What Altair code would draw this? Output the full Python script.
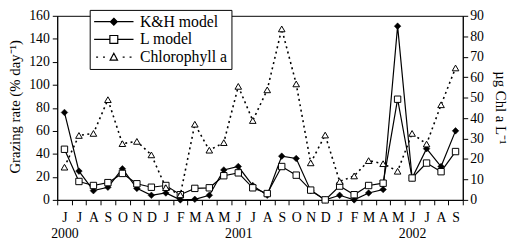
import json
import altair as alt
import pandas as pd

# ---- data ----
month_letters = ["J", "J", "A", "S", "O", "N", "D",
                 "J", "F", "M", "A", "M", "J", "J", "A", "S", "O", "N", "D",
                 "J", "F", "M", "A", "M", "J", "J", "A", "S"]
year_labels = {0: "2000", 12: "2001", 24: "2002"}

kh_model = [76, 25, 8, 11, 27, 10, 4, 6, 0, 0.5, 4, 26, 29, 12.5, 4, 38, 36, 8, 0,
            4, 0, 6, 9, 151, 19, 44.5, 29, 60]
l_model = [44, 16, 12.5, 15, 23, 14, 11, 12.5, 4.5, 10, 10.5, 21, 23.5, 10.5, 5.5, 29, 21.5, 8.5, 0,
           12, 4.5, 12.5, 14.5, 87.5, 19, 32, 24.5, 42]
chlorophyll = [16, 31.5, 32.5, 49, 27.5, 28.6, 22, 6, 2.5, 37, 24.3, 28, 55.5, 38.8, 53.8, 83.6, 56.7,
               18.1, 31.7, 9, 11.7, 19.2, 17.7, 14, 32.5, 27.3, 46.5, 64.5]

series_names = ["K&H model", "L model", "Chlorophyll a"]
left_ticks = [0, 20, 40, 60, 80, 100, 120, 140, 160]
right_ticks = [0, 10, 20, 30, 40, 50, 60, 70, 80, 90]

df = pd.DataFrame({"i": list(range(len(month_letters))), "kh": kh_model,
                   "l": l_model, "chl": chlorophyll})

FONT = "Liberation Serif"

label_arr = [[m, year_labels[k]] if k in year_labels else m for k, m in enumerate(month_letters)]
label_expr = json.dumps(label_arr) + "[datum.value]"

x_enc = alt.X("i:O",
              scale=alt.Scale(type="band", paddingInner=0, paddingOuter=0),
              axis=alt.Axis(title=None, labelExpr=label_expr, labelAngle=0, labelOverlap=False,
                            tickBand="extent", tickSize=5, tickColor="black", domainColor="black",
                            labelFont=FONT, labelFontSize=14, labelColor="black",
                            labelPadding=6, labelLineHeight=16, grid=False))

left_axis = alt.Axis(orient="left", values=left_ticks, title="Grazing rate (% day⁻¹)",
                     titleFont=FONT, titleFontSize=15, titleFontWeight="normal", titleColor="black",
                     titleX=-43, titleY=92, titleAngle=-90, titleAlign="center", titleBaseline="middle",
                     labelFont=FONT, labelFontSize=14, labelColor="black", labelPadding=3,
                     tickColor="black", tickSize=5, domainColor="black", grid=False)
right_axis = alt.Axis(orient="right", values=right_ticks, title="µg Chl a L⁻¹",
                      titleFont=FONT, titleFontSize=15, titleFontWeight="normal", titleColor="black",
                      titleX=38, titleY=93, titleAngle=90, titleAlign="center", titleBaseline="middle",
                      labelFont=FONT, labelFontSize=14, labelColor="black", labelPadding=2,
                      tickColor="black", tickSize=5, domainColor="black", grid=False)

yl_scale = alt.Scale(domain=[0, 160], nice=False)
yr_scale = alt.Scale(domain=[0, 90], nice=False)

base = alt.Chart(df)

kh_line = base.mark_line(color="black", strokeWidth=1.2).encode(
    x=x_enc, y=alt.Y("kh:Q", scale=yl_scale, axis=left_axis))
l_line = base.mark_line(color="black", strokeWidth=1.2).encode(
    x=x_enc, y=alt.Y("l:Q", scale=yl_scale, axis=left_axis))
kh_pts = base.mark_point(shape="diamond", filled=True, fill="black", stroke="black",
                         strokeWidth=0.5, size=45, opacity=1).encode(
    x=x_enc, y=alt.Y("kh:Q", scale=yl_scale, axis=left_axis))
l_pts = base.mark_point(shape="square", filled=True, fill="white", stroke="black",
                        strokeWidth=1, size=42, opacity=1).encode(
    x=x_enc, y=alt.Y("l:Q", scale=yl_scale, axis=left_axis))
left = alt.layer(kh_line, l_line, kh_pts, l_pts)

chl_line = base.mark_line(color="black", strokeWidth=1.6, strokeDash=[2, 3.5]).encode(
    x=x_enc, y=alt.Y("chl:Q", scale=yr_scale, axis=right_axis))
chl_pts = base.mark_point(shape="triangle-up", filled=True, fill="white", stroke="black",
                          strokeWidth=1, size=45, opacity=1).encode(
    x=x_enc, y=alt.Y("chl:Q", scale=yr_scale, axis=right_axis))
right = alt.layer(chl_line, chl_pts)

# legend symbols: line + marker drawn as one custom path (unit = 5px)
legend_paths = [
    "M-1.5,0H6.5M2.5,-0.7L3.2,0L2.5,0.7L1.8,0Z",
    "M-1.5,0H1.7M3.3,0H6.5M1.7,-0.8H3.3V0.8H1.7Z",
    "M-1.1,0H-0.7M0.3,0H0.7M4.3,0H4.7M5.7,0H6.1M2.5,-0.8L3.25,0.6L1.75,0.6Z",
]
legend_fills = ["black", "white", "white"]
legend_strokes = ["black", "black", "black"]
leg = alt.Legend(title=None, orient="none", legendX=33, legendY=-6,
                 fillColor="white", strokeColor="black", padding=4,
                 symbolSize=100, symbolStrokeWidth=1.2,
                 symbolOpacity=1, labelFont=FONT, labelFontSize=16, labelColor="black",
                 labelOffset=31, rowPadding=2)
legend_layer = base.transform_filter("datum.i < 0").mark_point(
    filled=True, strokeWidth=1.2, opacity=1).encode(
    shape=alt.Shape("s:N", scale=alt.Scale(domain=series_names, range=legend_paths), legend=leg),
    fill=alt.Fill("s:N", scale=alt.Scale(domain=series_names, range=legend_fills), legend=leg),
    stroke=alt.Stroke("s:N", scale=alt.Scale(domain=series_names, range=legend_strokes), legend=leg),
)

chart = alt.layer(left, right, legend_layer).resolve_scale(y="independent").properties(
    width=412, height=187,
    autosize=alt.AutoSizeParams(type="none"),
    padding={"left": 50, "top": 6, "right": 50, "bottom": 50},
).configure_view(stroke="black", strokeWidth=1)

chart.save("out.html", embed_options={"renderer": "svg", "actions": False})
